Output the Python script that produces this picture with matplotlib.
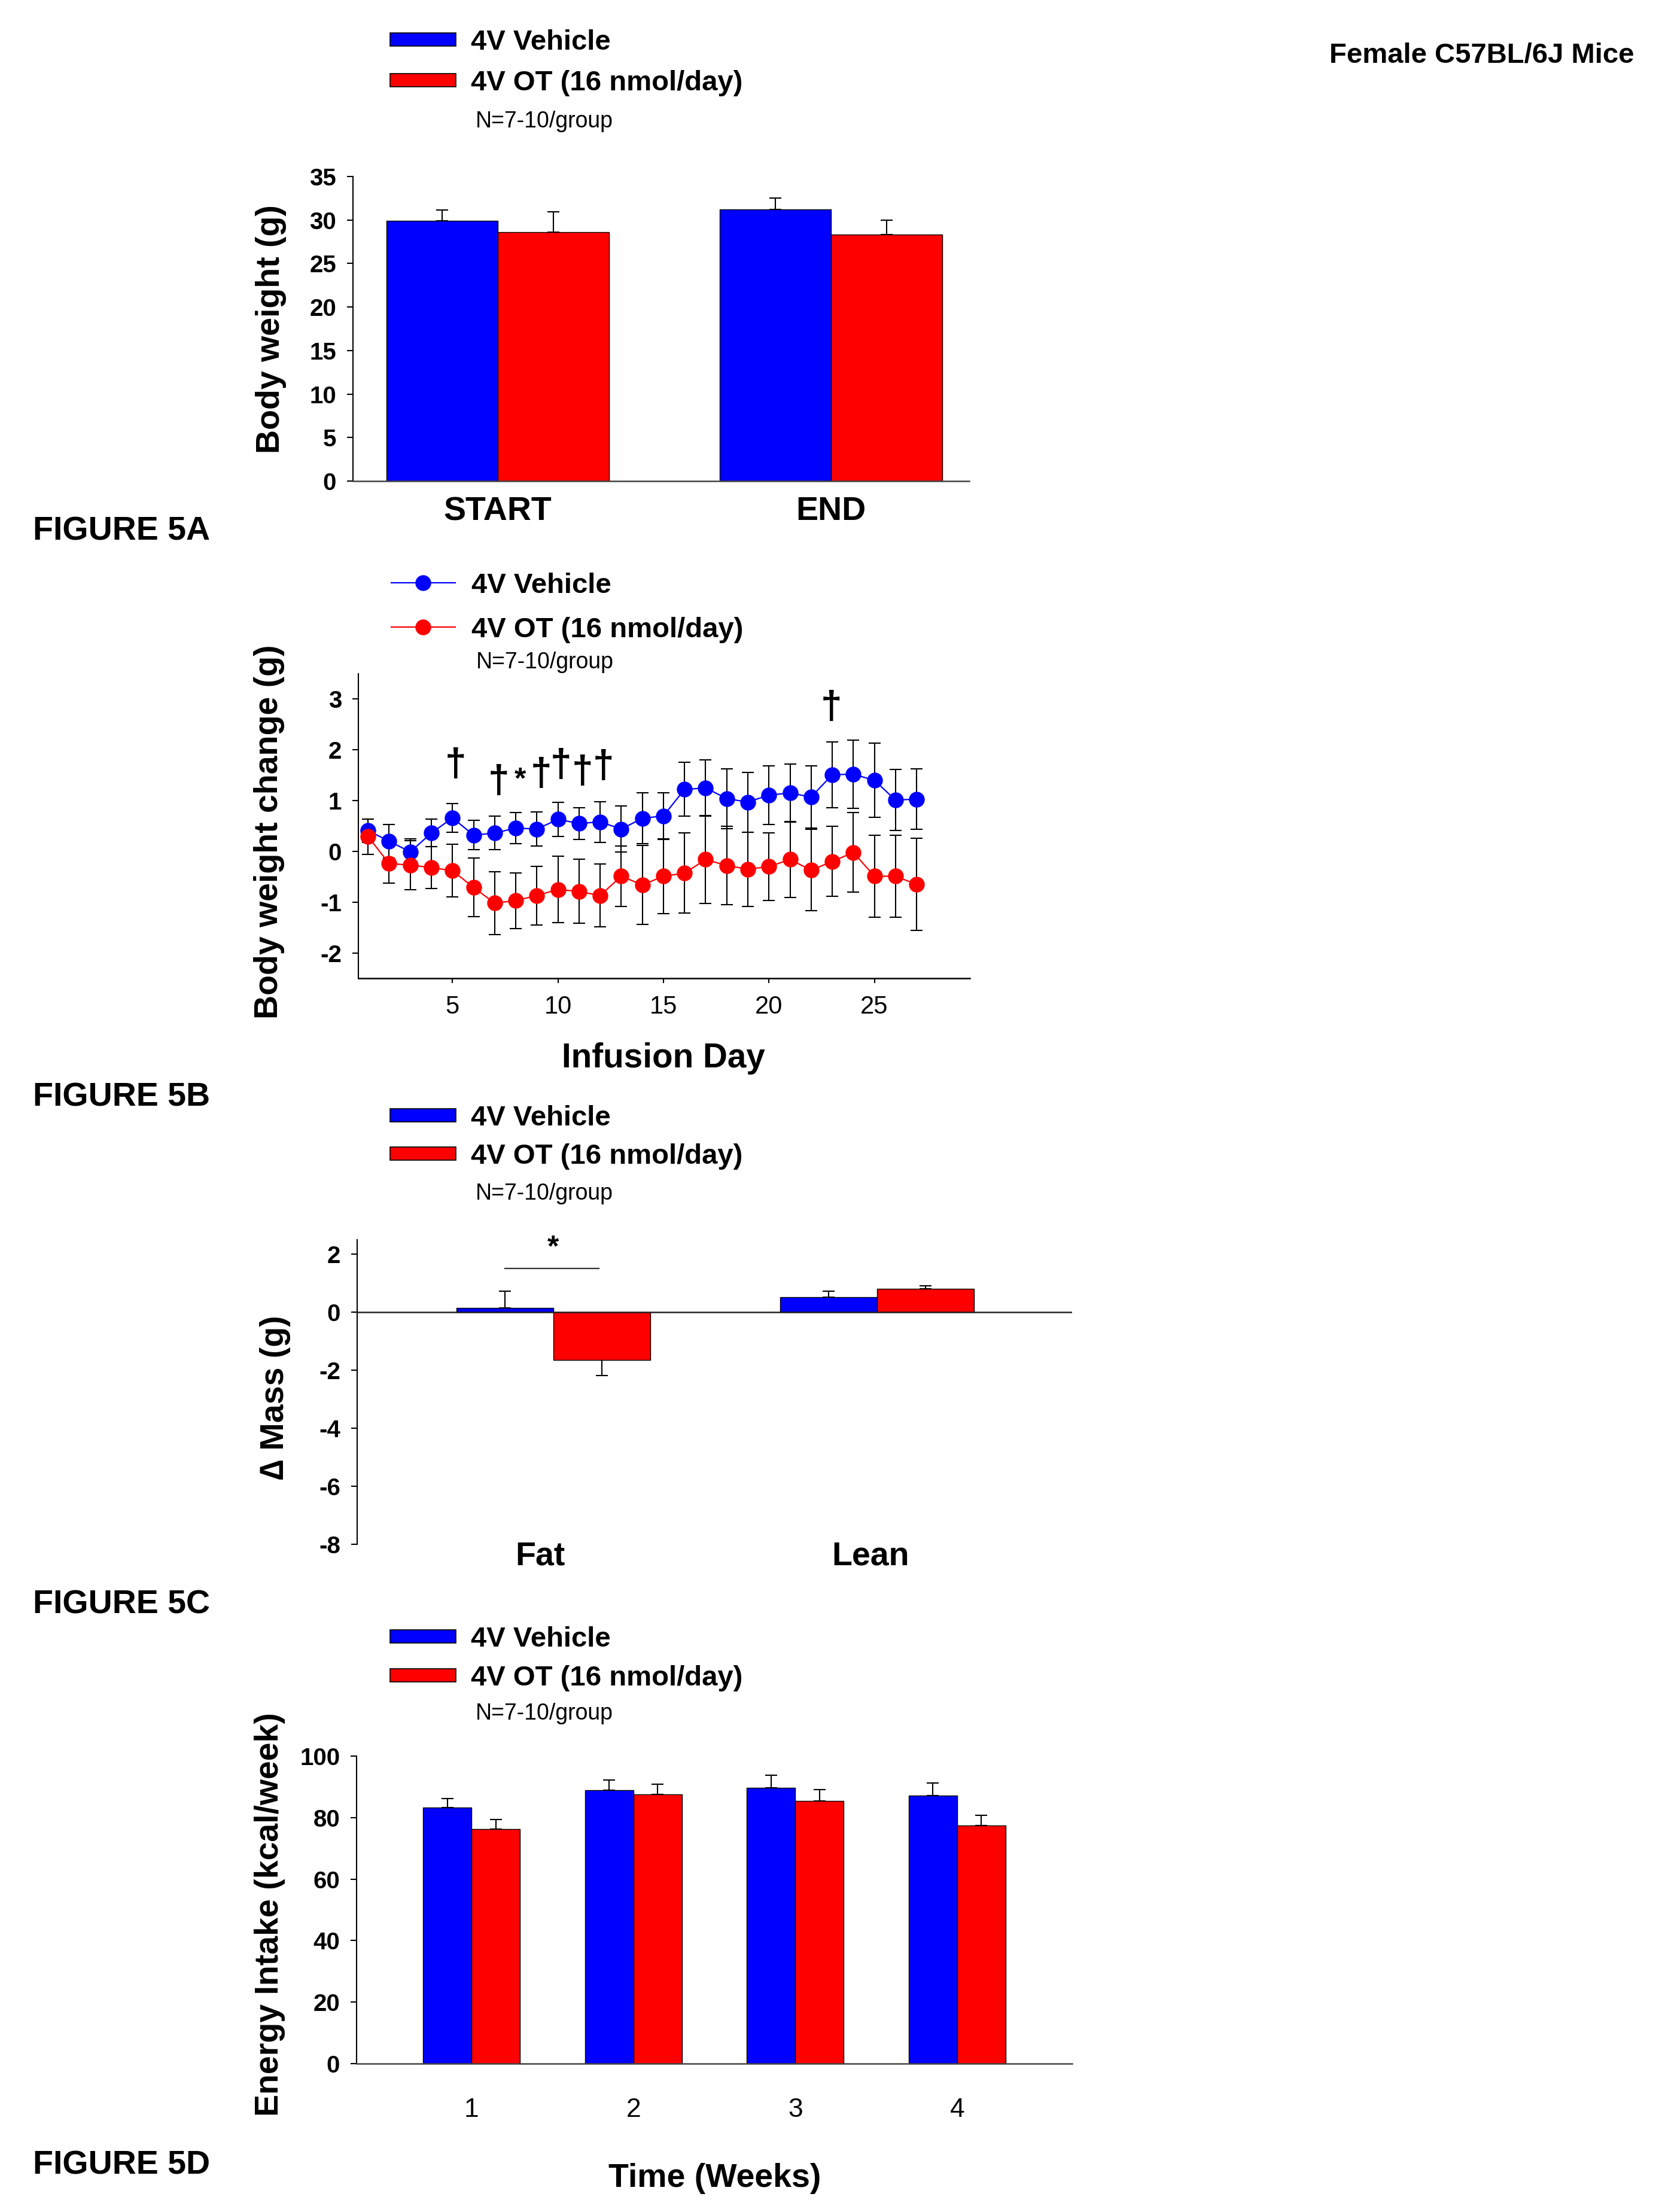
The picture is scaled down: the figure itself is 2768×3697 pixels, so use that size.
import matplotlib
matplotlib.use("Agg")
import matplotlib.pyplot as plt
from matplotlib.patches import Rectangle
from matplotlib.lines import Line2D
import numpy as np

plt.rcParams['font.family'] = ['Liberation Sans', 'DejaVu Sans']
plt.rcParams['axes.unicode_minus'] = False

# ---------------- data ----------------
series_names = ['4V Vehicle', '4V OT (16 nmol/day)']
n_text = 'N=7-10/group'

# Figure 5A: body weight
bw_groups = ['START', 'END']
bw_vehicle = [29.9, 31.25]
bw_vehicle_sem = [1.28, 1.25]
bw_ot = [28.6, 28.3]
bw_ot_sem = [2.33, 1.69]

# Figure 5B: body weight change by infusion day
days = [1, 2, 3, 4, 5, 6, 7, 8, 9, 10, 11, 12, 13, 14, 15, 16, 17, 18, 19, 20,
        21, 22, 23, 24, 25, 26, 27]
chg_vehicle = [0.41, 0.20, -0.01, 0.36, 0.66, 0.32, 0.36, 0.46, 0.44, 0.63, 0.55,
               0.58, 0.44, 0.65, 0.70, 1.22, 1.25, 1.04, 0.97, 1.11, 1.15, 1.07,
               1.51, 1.52, 1.40, 1.01, 1.03]
chg_vehicle_sem = [0.23, 0.33, 0.26, 0.27, 0.28, 0.29, 0.33, 0.31, 0.34, 0.34, 0.31,
                   0.40, 0.45, 0.50, 0.46, 0.53, 0.55, 0.59, 0.59, 0.58, 0.57, 0.61,
                   0.65, 0.67, 0.73, 0.60, 0.60]
chg_ot = [0.29, -0.24, -0.27, -0.32, -0.38, -0.71, -1.02, -0.97, -0.87, -0.75, -0.79,
          -0.87, -0.49, -0.66, -0.49, -0.43, -0.16, -0.28, -0.35, -0.30, -0.16, -0.37,
          -0.20, -0.02, -0.49, -0.49, -0.65]
chg_ot_sem = [0.35, 0.39, 0.48, 0.41, 0.52, 0.58, 0.62, 0.55, 0.58, 0.65, 0.63,
              0.62, 0.60, 0.78, 0.74, 0.79, 0.87, 0.77, 0.73, 0.67, 0.75, 0.80,
              0.69, 0.78, 0.81, 0.81, 0.91]
# significance marks (day position, y value, symbol)
sig_days = [5.15, 7.2, 8.2, 9.2, 10.15, 11.15, 12.15, 22.95]
sig_y = [1.70, 1.37, 1.40, 1.51, 1.68, 1.55, 1.66, 2.83]
sig_sym = ['\u2020', '\u2020', '*', '\u2020', '\u2020', '\u2020', '\u2020', '\u2020']

# Figure 5C: change in body composition
mass_groups = ['Fat', 'Lean']
mass_vehicle = [0.14, 0.52]
mass_vehicle_sem = [0.58, 0.20]
mass_ot = [-1.64, 0.80]
mass_ot_sem = [0.54, 0.11]

# Figure 5D: energy intake per week
weeks = ['1', '2', '3', '4']
ei_vehicle = [83.2, 89.0, 89.7, 87.1]
ei_vehicle_sem = [3.0, 3.3, 4.1, 4.2]
ei_ot = [76.2, 87.5, 85.5, 77.5]
ei_ot_sem = [3.1, 3.4, 3.7, 3.2]

BLUE = '#0000FF'
RED = '#FF0000'

W, H = 2768, 3697
DPI = 100
fig = plt.figure(figsize=(W / DPI, H / DPI), dpi=DPI)


def add_axes_px(left, top, right, bottom):
    return fig.add_axes([left / W, 1 - bottom / H, (right - left) / W, (bottom - top) / H])


def ftext(x, yc, s, size, weight='bold', ha='left', **kw):
    # place text so its cap-height centre lies at pixel row yc
    em = size * DPI / 72.0
    base = yc + 0.358 * em
    fig.text(x / W, 1 - base / H, s, fontsize=size, fontweight=weight,
             ha=ha, va='baseline', **kw)


def ylab(x, yc, s, size=40):
    fig.text(x / W, 1 - yc / H, s, fontsize=size, fontweight='bold',
             rotation=90, ha='center', va='center')


def style_axes(ax):
    for s in ['top', 'right']:
        ax.spines[s].set_visible(False)
    ax.spines['left'].set_linewidth(1.5)
    ax.spines['bottom'].set_linewidth(1.8)
    ax.spines['bottom'].set_color('#444444')
    ax.tick_params(axis='y', direction='out', length=7, width=1.5, labelsize=29, pad=13)
    for lbl in ax.get_yticklabels():
        lbl.set_fontweight('bold')


def one_sided(vals, sems):
    v = np.asarray(vals, float)
    s = np.asarray(sems, float)
    lower = np.where(v < 0, s, 0.0)
    upper = np.where(v >= 0, s, 0.0)
    return [lower, upper]


def bar_legend(yb, yr, yn):
    for yc, col, name in [(yb, BLUE, series_names[0]), (yr, RED, series_names[1])]:
        fig.add_artist(Rectangle((652 / W, 1 - (yc + 11) / H), 110 / W, 22 / H,
                                 transform=fig.transFigure, facecolor=col,
                                 edgecolor='black', lw=1.2))
        ftext(787, yc, name, 34)
    ftext(795, yn, n_text, 27, weight='normal')


ebar_kw = dict(fmt='none', ecolor='black', elinewidth=1.5, capsize=7, capthick=1.5, zorder=1)
bar_kw = dict(edgecolor='black', linewidth=1.0, zorder=2)

# ---------------- Panel A ----------------
axA = add_axes_px(590, 295, 1620, 804)
xA = np.arange(len(bw_groups))
wA = 0.334
axA.errorbar(xA - wA / 2, bw_vehicle, yerr=one_sided(bw_vehicle, bw_vehicle_sem), **ebar_kw)
axA.errorbar(xA + wA / 2, bw_ot, yerr=one_sided(bw_ot, bw_ot_sem), **ebar_kw)
axA.bar(xA - wA / 2, bw_vehicle, wA, color=BLUE, **bar_kw)
axA.bar(xA + wA / 2, bw_ot, wA, color=RED, **bar_kw)
axA.set_xlim(-0.434, 1.415)
axA.set_ylim(0, 35)
axA.set_yticks(np.arange(0, 36, 5))
axA.set_xticks(xA)
axA.set_xticklabels(bw_groups, fontsize=40, fontweight='bold')
axA.tick_params(axis='x', length=0, pad=18)
style_axes(axA)
ylab(453, 550, 'Body weight (g)')
bar_legend(66, 134, 200)
ftext(2222, 88, 'Female C57BL/6J Mice', 34)
ftext(55, 883, 'FIGURE 5A', 40)

# ---------------- Panel B ----------------
axB = add_axes_px(599, 1126, 1621, 1635)
axB.errorbar(days, chg_vehicle, yerr=chg_vehicle_sem, **dict(ebar_kw, zorder=2))
axB.errorbar(days, chg_ot, yerr=chg_ot_sem, **dict(ebar_kw, zorder=2))
axB.plot(days, chg_vehicle, color=BLUE, lw=1.6, marker='o', ms=18, mfc=BLUE, mec=BLUE, zorder=3)
axB.plot(days, chg_ot, color=RED, lw=1.6, marker='o', ms=18, mfc=RED, mec=RED, zorder=4)
for xd, yd, sym in zip(sig_days, sig_y, sig_sym):
    axB.text(xd, yd, sym, fontsize=46 if sym != '*' else 36, fontweight='bold',
             ha='center', va='center', zorder=5)
axB.set_xlim(0.54, 29.52)
axB.set_ylim(-2.5, 3.5)
axB.set_yticks(np.arange(-2, 4, 1))
axB.set_xticks([5, 10, 15, 20, 25])
axB.tick_params(axis='x', direction='out', length=6, width=1.5, labelsize=30, pad=14)
style_axes(axB)
axB.spines['bottom'].set_color('black')
ylab(450, 1390, 'Body weight change (g)')
ftext(1109, 1764, 'Infusion Day', 40.8, ha='center')
for yc, col, name in [(974, BLUE, series_names[0]), (1048, RED, series_names[1])]:
    fig.add_artist(Line2D([654 / W, 761 / W], [1 - yc / H, 1 - yc / H], color=col, lw=1.6,
                          transform=fig.transFigure))
    fig.add_artist(Line2D([707 / W], [1 - yc / H], color=col, marker='o', ms=18, mec=col,
                          transform=fig.transFigure))
    ftext(788, yc, name, 34)
ftext(796, 1104, n_text, 27, weight='normal')
ftext(55, 1829, 'FIGURE 5B', 40)

# ---------------- Panel C ----------------
axC = add_axes_px(597, 2072, 1792, 2581)
xC = np.arange(len(mass_groups))
wC = 0.30
axC.errorbar(xC - wC / 2, mass_vehicle, yerr=one_sided(mass_vehicle, mass_vehicle_sem), **ebar_kw)
axC.errorbar(xC + wC / 2, mass_ot, yerr=one_sided(mass_ot, mass_ot_sem), **ebar_kw)
axC.bar(xC - wC / 2, mass_vehicle, wC, color=BLUE, **bar_kw)
axC.bar(xC + wC / 2, mass_ot, wC, color=RED, **bar_kw)
axC.axhline(0, color='#222222', lw=1.8, zorder=3)
axC.plot([xC[0] - wC / 2, xC[0] + wC / 2 - 0.01], [1.52, 1.52], color='#333333', lw=1.6)
axC.text(xC[0], 2.21, '*', fontsize=36, fontweight='bold', ha='center', va='center')
axC.set_xlim(-0.606, 1.603)
axC.set_ylim(-8, 2.5)
axC.set_yticks(np.arange(-8, 3, 2))
axC.set_xticks(xC + np.array([-0.04, -0.02]))
axC.set_xticklabels(mass_groups, fontsize=40, fontweight='bold')
axC.tick_params(axis='x', length=0, pad=-4)
style_axes(axC)
axC.spines['bottom'].set_visible(False)
ylab(460, 2336, '\u2206 Mass (g)')
bar_legend(1864, 1928, 1992)
ftext(55, 2677, 'FIGURE 5C', 40)

# ---------------- Panel D ----------------
axD = add_axes_px(596, 2935, 1792, 3449)
xD = np.arange(1, len(weeks) + 1)
wD = 0.30
axD.errorbar(xD - wD / 2, ei_vehicle, yerr=one_sided(ei_vehicle, ei_vehicle_sem), **ebar_kw)
axD.errorbar(xD + wD / 2, ei_ot, yerr=one_sided(ei_ot, ei_ot_sem), **ebar_kw)
axD.bar(xD - wD / 2, ei_vehicle, wD, color=BLUE, **bar_kw)
axD.bar(xD + wD / 2, ei_ot, wD, color=RED, **bar_kw)
axD.set_xlim(0.29, 4.71)
axD.set_ylim(0, 100)
axD.set_yticks(np.arange(0, 101, 20))
axD.set_xticks(xD)
axD.set_xticklabels(weeks, fontsize=32)
axD.tick_params(axis='x', length=0, pad=41)
style_axes(axD)
ylab(451, 3200, 'Energy Intake (kcal/week)')
ftext(1195, 3635, 'Time (Weeks)', 40, ha='center')
bar_legend(2735, 2800, 2861)
ftext(55, 3614, 'FIGURE 5D', 40)

fig.savefig('out.png', dpi=DPI, facecolor='white')
